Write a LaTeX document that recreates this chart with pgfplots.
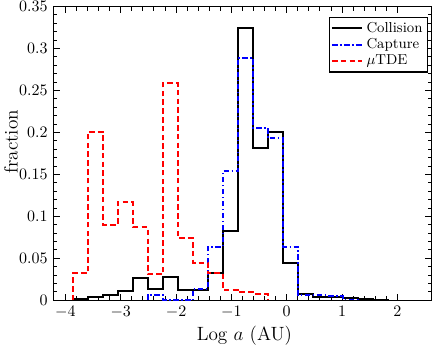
\documentclass[border=0pt]{standalone}
\usepackage{pgfplots}
\pgfplotsset{compat=1.18}
\begin{document}
\begin{tikzpicture}
\begin{axis}[
    scale only axis,
    width=236.5pt, height=183.6pt,
    xmin=-4.22, xmax=2.62, ymin=0, ymax=0.35,
    xtick={-4,-3,-2,-1,0,1,2},
    ytick={0,0.05,0.1,0.15,0.2,0.25,0.3,0.35},
    minor x tick num=4, minor y tick num=4,
    yticklabel style={/pgf/number format/fixed,/pgf/number format/precision=2},
    tick align=inside, xtick pos=both, ytick pos=both,
    axis line style={line width=0.8pt},
    every tick/.style={black, line width=0.6pt},
    major tick length=4.2pt, minor tick length=2.5pt,
    xlabel={Log $a$ (AU)}, ylabel={fraction},
    xlabel style={font=\fontsize{12}{14}\selectfont,
        at={(axis description cs:0.505,-0.12)}, anchor=center},
    ylabel style={font=\fontsize{12}{14}\selectfont,
        at={(axis description cs:-0.112,0.54)}, anchor=center},
    legend style={at={(axis description cs:0.990,0.966)}, anchor=north east,
        draw=black, line width=0.7pt, font=\fontsize{9}{10}\selectfont,
        inner sep=1pt, row sep=-1.5pt, cells={anchor=west}},
    legend image code/.code={\draw[#1] plot coordinates {(0pt,0pt) (9.5pt,0pt) (19pt,0pt)};},
]
% Collision
\addplot[const plot mark left, black, line width=1.2pt] coordinates {
    (-3.867,0) (-3.867,0.002) (-3.596,0.004) (-3.324,0.0063) (-3.053,0.011)
    (-2.782,0.027) (-2.510,0.013) (-2.239,0.028) (-1.968,0.0123) (-1.697,0.0123)
    (-1.425,0.032) (-1.154,0.0825) (-0.883,0.3245) (-0.611,0.1817) (-0.340,0.2007)
    (-0.069,0.0448) (0.203,0.0075) (0.474,0.004) (0.745,0.004) (1.017,0.003)
    (1.288,0.002) (1.559,0.001) (1.830,0.001) (1.830,0)
};
% Capture
\addplot[const plot mark left, blue, line width=1.2pt,
    dash pattern=on 3.5pt off 1.5pt on 1pt off 1.5pt] coordinates {
    (-2.510,0) (-2.510,0.0065) (-2.239,0) (-1.697,0.0135) (-1.425,0.064)
    (-1.154,0.154) (-0.883,0.289) (-0.611,0.2055) (-0.340,0.193) (-0.069,0.064)
    (0.203,0.006) (0.474,0.006) (0.745,0.005) (1.017,0.001) (1.288,0.001) (1.288,0)
};
% muTDE
\addplot[const plot mark left, red, line width=1.2pt,
    dash pattern=on 3.5pt off 2pt] coordinates {
    (-3.867,0) (-3.867,0.032) (-3.596,0.201) (-3.324,0.090) (-3.053,0.117)
    (-2.782,0.087) (-2.510,0.031) (-2.239,0.259) (-1.968,0.074) (-1.697,0.045)
    (-1.425,0.032) (-1.154,0.012) (-0.883,0.0095) (-0.611,0.0075) (-0.340,0.0075)
    (-0.340,0)
};
\legend{Collision,Capture,$\mu$TDE}
\end{axis}
\pgfresetboundingbox
\path[use as bounding box] (current axis.south west) ++(-33.3pt,-27.9pt)
    rectangle ([shift={(2.7pt,4.1pt)}]current axis.north east);
\end{tikzpicture}
\end{document}
